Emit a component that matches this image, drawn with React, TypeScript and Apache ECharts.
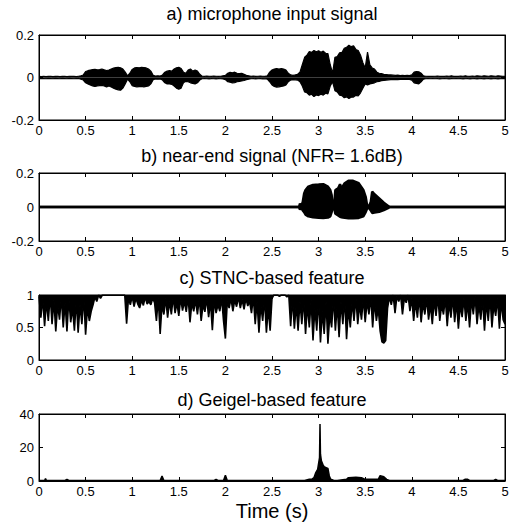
import React, { useEffect, useRef } from "react";
import * as echarts from "echarts";

// ---------- data ----------
const micStep = 0.025;
const micUpper = [
  0.005, 0.004, 0.006, 0.004, 0.005, 0.006, 0.004, 0.005, 0.006, 0.004,
  0.005, 0.006, 0.004, 0.005, 0.006, 0.005, 0.004, 0.006, 0.008, 0.012,
  0.028, 0.032, 0.035, 0.037, 0.038, 0.036, 0.037, 0.04, 0.036, 0.033,
  0.035, 0.04, 0.044, 0.047, 0.048, 0.046, 0.04, 0.025, 0.008, 0.02,
  0.038, 0.045, 0.047, 0.046, 0.048, 0.047, 0.045, 0.04, 0.03, 0.01,
  0.007, 0.008, 0.007, 0.012, 0.025, 0.03, 0.032, 0.03, 0.04, 0.046,
  0.048, 0.042, 0.025, 0.02, 0.035, 0.04, 0.03, 0.035, 0.03, 0.015,
  0.006, 0.005, 0.007, 0.006, 0.005, 0.007, 0.006, 0.005, 0.006, 0.008,
  0.01, 0.02, 0.024, 0.022, 0.025, 0.02, 0.018, 0.02, 0.015, 0.01,
  0.008, 0.006, 0.007, 0.005, 0.006, 0.007, 0.006, 0.005, 0.008, 0.025,
  0.035, 0.04, 0.042, 0.04, 0.042, 0.04, 0.035, 0.02, 0.012, 0.01,
  0.012, 0.015, 0.025, 0.06, 0.095, 0.105, 0.122, 0.118, 0.127, 0.121,
  0.126, 0.119, 0.124, 0.114, 0.112, 0.06, 0.02, 0.095, 0.098, 0.116,
  0.118, 0.137, 0.142, 0.152, 0.145, 0.149, 0.132, 0.127, 0.105, 0.07,
  0.045, 0.12, 0.06, 0.045, 0.04, 0.025, 0.02, 0.018, 0.015, 0.014,
  0.012, 0.012, 0.011, 0.01, 0.011, 0.009, 0.01, 0.009, 0.01, 0.009,
  0.012, 0.025, 0.028, 0.027, 0.02, 0.008, 0.006, 0.005, 0.006, 0.005,
  0.006, 0.007, 0.005, 0.006, 0.005, 0.007, 0.006, 0.008, 0.005, 0.006,
  0.005, 0.007, 0.006, 0.008, 0.006, 0.005, 0.007, 0.006, 0.008, 0.007,
  0.006, 0.008, 0.007, 0.006, 0.008, 0.007, 0.006, 0.008, 0.007, 0.006,
  0.005,
];
const micLower = [
  -0.005, -0.004, -0.005, -0.006, -0.004, -0.005, -0.006, -0.004, -0.005, -0.006,
  -0.004, -0.005, -0.006, -0.004, -0.005, -0.006, -0.005, -0.004, -0.008, -0.012,
  -0.025, -0.03, -0.035, -0.04, -0.042, -0.04, -0.038, -0.037, -0.04, -0.045,
  -0.04, -0.045, -0.05, -0.055, -0.058, -0.06, -0.05, -0.03, -0.008, -0.02,
  -0.038, -0.042, -0.044, -0.043, -0.042, -0.044, -0.042, -0.04, -0.03, -0.01,
  -0.007, -0.008, -0.007, -0.012, -0.025, -0.03, -0.03, -0.032, -0.04, -0.05,
  -0.055, -0.05, -0.025, -0.018, -0.02, -0.025, -0.028, -0.03, -0.025, -0.012,
  -0.006, -0.005, -0.006, -0.007, -0.005, -0.006, -0.007, -0.005, -0.006, -0.007,
  -0.01, -0.02, -0.022, -0.025, -0.024, -0.02, -0.018, -0.016, -0.014, -0.01,
  -0.008, -0.006, -0.005, -0.007, -0.006, -0.005, -0.007, -0.006, -0.008, -0.02,
  -0.035, -0.042, -0.045, -0.044, -0.042, -0.04, -0.035, -0.02, -0.012, -0.01,
  -0.011, -0.012, -0.02, -0.04, -0.068, -0.072, -0.083, -0.079, -0.09, -0.082,
  -0.085, -0.079, -0.083, -0.074, -0.077, -0.04, -0.02, -0.062, -0.068, -0.083,
  -0.085, -0.095, -0.091, -0.099, -0.093, -0.092, -0.084, -0.087, -0.072, -0.05,
  -0.03, -0.035, -0.03, -0.028, -0.025, -0.02, -0.018, -0.015, -0.014, -0.012,
  -0.011, -0.01, -0.01, -0.009, -0.01, -0.009, -0.008, -0.009, -0.008, -0.009,
  -0.012, -0.025, -0.028, -0.03, -0.02, -0.008, -0.006, -0.005, -0.006, -0.005,
  -0.006, -0.005, -0.007, -0.006, -0.005, -0.006, -0.007, -0.005, -0.006, -0.005,
  -0.006, -0.005, -0.007, -0.006, -0.005, -0.007, -0.006, -0.005, -0.007, -0.006,
  -0.005, -0.007, -0.006, -0.005, -0.007, -0.006, -0.005, -0.007, -0.006, -0.005,
  -0.005,
];

const nearTimes = [
  0, 2.79, 2.8, 2.815, 2.83, 2.845, 2.86, 2.89, 2.94, 3.0,
  3.05, 3.1, 3.125, 3.14, 3.15, 3.165, 3.18, 3.21, 3.23, 3.245,
  3.28, 3.32, 3.37, 3.43, 3.48, 3.505, 3.52, 3.54, 3.56, 3.575,
  3.6, 3.65, 3.7, 3.75, 3.76, 5,
];
const nearUpper = [
  0, 0, 0.02, 0.005, 0.03, 0.08, 0.1, 0.12, 0.13, 0.132,
  0.134, 0.12, 0.1, 0.07, 0.003, 0.003, 0.1, 0.11, 0.134, 0.11,
  0.14, 0.154, 0.154, 0.14, 0.1, 0.06, 0.01, 0.005, 0.03, 0.09,
  0.075, 0.05, 0.025, 0.005, 0, 0,
];
const nearLower = [
  0, 0, -0.015, -0.005, -0.02, -0.03, -0.045, -0.055, -0.06, -0.063,
  -0.064, -0.062, -0.055, -0.03, -0.003, -0.003, -0.04, -0.05, -0.058, -0.06,
  -0.064, -0.066, -0.066, -0.064, -0.055, -0.03, -0.01, -0.005, -0.02, -0.035,
  -0.032, -0.028, -0.018, -0.005, 0, 0,
];

const stncStep = 0.02;
const stncValues = [
  0.98, 0.65, 0.95, 0.52, 0.9, 0.6, 1.0, 0.55, 0.92, 0.44,
  0.85, 0.62, 0.97, 0.5, 0.88, 0.44, 0.95, 0.58, 0.8, 0.45,
  0.93, 0.42, 0.85, 0.55, 0.98, 0.39, 0.8, 0.6, 0.75, 0.85,
  0.97, 0.9, 1.0, 0.95, 1, 1, 1, 1, 1, 1,
  1, 1, 1, 1, 1, 1, 1, 0.56, 0.95, 0.85,
  0.98, 0.82, 0.95, 0.86, 0.8, 0.92, 0.84, 0.97, 0.86, 0.9,
  0.85, 0.95, 0.88, 0.6, 0.95, 0.4, 0.85, 0.7, 0.95, 0.65,
  0.9, 0.7, 0.97, 0.72, 0.88, 0.68, 0.95, 0.76, 0.9, 0.74,
  0.97, 0.58, 0.88, 0.75, 0.92, 0.7, 0.95, 0.6, 0.85, 0.74,
  0.95, 0.66, 0.9, 0.46, 0.92, 0.72, 0.85, 0.75, 0.95, 0.6,
  0.33, 0.9, 0.8, 0.95, 0.75, 0.92, 0.82, 0.97, 0.8, 0.93,
  0.78, 0.95, 0.83, 0.9, 0.72, 0.97, 0.55, 0.9, 0.42, 0.85,
  0.6, 0.95, 0.42, 0.8, 0.45, 0.95, 1, 1, 1, 0.98,
  1, 1, 1, 0.97, 1, 0.52, 0.95, 0.48, 0.85, 0.45,
  0.9, 0.55, 0.95, 0.4, 0.85, 0.5, 0.92, 0.3, 0.8, 0.45,
  0.95, 0.27, 0.75, 0.4, 0.9, 0.25, 0.7, 0.5, 0.97, 0.45,
  0.85, 0.35, 0.9, 0.55, 0.95, 0.32, 0.8, 0.5, 0.9, 0.6,
  0.97, 0.55, 0.85, 0.62, 0.95, 0.58, 0.9, 0.7, 0.98, 0.5,
  0.9, 0.6, 0.8, 0.45, 0.28, 0.26, 0.3, 0.8, 0.97, 0.85,
  1.0, 0.72, 0.98, 0.9, 1.0, 0.7, 0.95, 0.88, 1.0, 0.75,
  0.95, 0.6, 0.9, 0.65, 0.97, 0.58, 0.88, 0.7, 0.95, 0.62,
  0.85, 0.55, 0.92, 0.68, 0.98, 0.6, 0.85, 0.7, 0.95, 0.52,
  0.88, 0.65, 0.97, 0.58, 0.9, 0.48, 0.85, 0.66, 0.95, 0.6,
  0.88, 0.5, 0.93, 0.7, 0.98, 0.55, 0.85, 0.62, 0.95, 0.45,
  0.9, 0.6, 0.97, 0.5, 0.85, 0.68, 0.95, 0.48, 0.9, 0.62,
  0.55,
];

const geigelTimes = [
  0, 0.06, 0.07, 0.08, 0.28, 0.3, 0.32, 1.3, 1.32, 1.34,
  1.88, 1.9, 1.92, 1.98, 2.0, 2.02, 2.85, 2.9, 2.93, 2.95,
  2.97, 2.99, 3.01, 3.015, 3.02, 3.03, 3.045, 3.06, 3.08, 3.1,
  3.115, 3.13, 3.16, 3.2, 3.3, 3.32, 3.4, 3.46, 3.5, 3.64,
  3.66, 3.7, 3.73, 3.76, 4.55, 4.57, 4.6, 4.62, 4.88, 4.9,
  4.92, 5,
];
const geigelValues = [
  0.3, 0.3, 1.5, 0.3, 0.3, 1, 0.3, 0.3, 3, 0.3,
  0.3, 1, 0.3, 0.3, 3.5, 0.3, 0.3, 1, 1.2, 2,
  5, 7, 14, 34, 16, 12, 10, 8.5, 8, 7.5,
  3, 1, 0.5, 0.3, 1, 2, 2.2, 2, 1, 1,
  3.2, 2.5, 1, 0.3, 0.3, 1, 1, 0.3, 0.3, 1,
  0.3, 0.3,
];

const panelTitles = [
  "a) microphone input signal",
  "b) near-end signal (NFR= 1.6dB)",
  "c) STNC-based feature",
  "d) Geigel-based feature",
];
const xAxisName = "Time (s)";
const yRanges = [
  { min: -0.2, max: 0.2, interval: 0.2 },
  { min: -0.2, max: 0.2, interval: 0.2 },
  { min: 0, max: 1, interval: 0.5 },
  { min: 0, max: 40, interval: 20 },
];

// ---------- layout ----------
const FONT = "Liberation Sans";
const grids = [
  { left: 39, top: 35, width: 466, height: 85 },
  { left: 39, top: 173, width: 466, height: 68 },
  { left: 39, top: 295, width: 466, height: 65 },
  { left: 39, top: 414, width: 466, height: 67 },
];
const titleY = [14, 156, 278, 400];

const stepPairs = (arr: number[], step: number) =>
  arr.map((v, i) => [+(i * step).toFixed(4), v]);
const zipPairs = (ts: number[], vs: number[]) => ts.map((t, i) => [t, vs[i]]);

export default function App() {
  const ref = useRef<HTMLDivElement>(null);
  useEffect(() => {
    if (!ref.current) return;
    const chart = echarts.init(ref.current, undefined, { renderer: "svg" });

    const xAxes: any[] = [];
    const yAxes: any[] = [];
    grids.forEach((_, i) => {
      const tick = { show: true, inside: true, length: 4, lineStyle: { color: "#000", width: 1 } };
      const label = { color: "#000", fontSize: 13, fontFamily: FONT };
      xAxes.push({
        gridIndex: i, type: "value", min: 0, max: 5, interval: 0.5, position: "bottom",
        axisLine: { show: true, onZero: false, lineStyle: { color: "#000", width: 1 } },
        axisTick: tick,
        axisLabel: { ...label, margin: 4, showMinLabel: true, showMaxLabel: true },
        splitLine: { show: false },
      });
      xAxes.push({
        gridIndex: i, type: "value", min: 0, max: 5, interval: 0.5, position: "top",
        axisLine: { show: true, onZero: false, lineStyle: { color: "#000", width: 1 } },
        axisTick: tick, axisLabel: { show: false }, splitLine: { show: false },
      });
      yAxes.push({
        gridIndex: i, type: "value", ...yRanges[i], position: "left",
        axisLine: { show: true, onZero: false, lineStyle: { color: "#000", width: 1 } },
        axisTick: tick,
        axisLabel: { ...label, margin: 5, showMinLabel: true, showMaxLabel: true },
        splitLine: { show: false },
      });
      yAxes.push({
        gridIndex: i, type: "value", ...yRanges[i], position: "right",
        axisLine: { show: true, onZero: false, lineStyle: { color: "#000", width: 1 } },
        axisTick: tick, axisLabel: { show: false }, splitLine: { show: false },
      });
    });

    const base = (i: number) => ({
      type: "line", xAxisIndex: 2 * i, yAxisIndex: 2 * i, showSymbol: false, symbol: "none",
      silent: true, z: 1,
    });
    const series: any[] = [
      { ...base(0), data: stepPairs(micUpper, micStep), lineStyle: { color: "#000", width: 1.2 }, areaStyle: { color: "#000", opacity: 1 } },
      { ...base(0), data: stepPairs(micLower, micStep), lineStyle: { color: "#000", width: 1.2 }, areaStyle: { color: "#000", opacity: 1 } },
      { ...base(1), data: zipPairs(nearTimes, nearUpper), lineStyle: { color: "#000", width: 2.5 }, areaStyle: { color: "#000", opacity: 1 } },
      { ...base(1), data: zipPairs(nearTimes, nearLower), lineStyle: { color: "#000", width: 2.5 }, areaStyle: { color: "#000", opacity: 1 } },
      { ...base(2), data: stepPairs(stncValues, stncStep), lineStyle: { color: "#000", width: 1.6 }, areaStyle: { color: "#000", opacity: 1, origin: "end" } },
      { ...base(3), data: zipPairs(geigelTimes, geigelValues), lineStyle: { color: "#000", width: 1.5 }, areaStyle: { color: "#000", opacity: 1 } },
    ];

    const graphics: any[] = panelTitles.map((t, i) => ({
      type: "text", x: 272, y: titleY[i],
      style: { text: t, fill: "#000", font: `18px "${FONT}"`, textAlign: "center", textVerticalAlign: "middle" },
    }));
    graphics.push({
      type: "text", x: 272, y: 511,
      style: { text: xAxisName, fill: "#000", font: `20px "${FONT}"`, textAlign: "center", textVerticalAlign: "middle" },
    });

    chart.setOption({
      animation: false,
      backgroundColor: "#fff",
      grid: grids.map((g) => ({ ...g, show: true, borderColor: "#000", borderWidth: 1, backgroundColor: "transparent" })),
      xAxis: xAxes,
      yAxis: yAxes,
      series,
      graphic: graphics,
    });
    return () => chart.dispose();
  }, []);
  return <div ref={ref} style={{ position: "absolute", left: 0, top: 0, width: 522, height: 524 }} />;
}
